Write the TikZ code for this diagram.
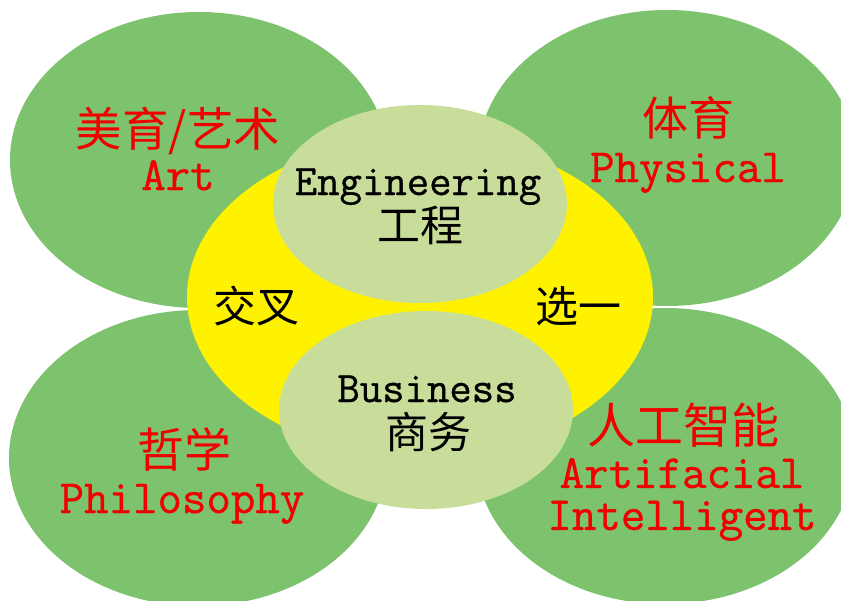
\documentclass[tikz,border=0pt]{standalone}
\usepackage{fontspec}
\newfontfamily\cjk{Noto Sans CJK SC}
\newfontfamily\latmono[FakeBold=0.8]{Latin Modern Mono}
\usetikzlibrary{shapes.geometric}
\definecolor{outergreen}{HTML}{7DC26C}
\definecolor{innergreen}{HTML}{C9DD9A}
\definecolor{coreyellow}{HTML}{FFF200}
\definecolor{labelred}{HTML}{F00000}
\tikzset{
  x=1pt, y=-1pt,
  blob/.style={ellipse, draw=none, inner sep=0pt},
  outerblob/.style={blob, fill=outergreen, minimum width=378pt, minimum height=296pt},
  innerblob/.style={blob, fill=innergreen, minimum width=294pt, minimum height=198pt},
  coreblob/.style={blob, fill=coreyellow, minimum width=466pt, minimum height=320pt},
  redcn/.style={anchor=base, inner sep=0pt, text=labelred, font=\cjk\fontsize{46}{50}\selectfont},
  redlat/.style={anchor=base, inner sep=0pt, text=labelred, font=\latmono\fontsize{47.5}{50}\selectfont},
  blackcn/.style={anchor=base, inner sep=0pt, text=black, font=\cjk\fontsize{43}{48}\selectfont},
  blacklat/.style={anchor=base, inner sep=0pt, text=black, font=\latmono\fontsize{43.5}{48}\selectfont},
}
\begin{document}
\begin{tikzpicture}
\useasboundingbox (0,0) rectangle (841,600);
\fill[white] (0,0) rectangle (841,600);
\begin{scope}
\clip (0,0) rectangle (841,600);
\node[outerblob] (tl) at (199,160) {};
\node[outerblob] (tr) at (667,158) {};
\node[outerblob] (bl) at (198,458) {};
\node[outerblob] (br) at (665,456) {};
\node[coreblob] (core) at (420,297) {};
\node[innerblob] (eng) at (420,204) {};
\node[innerblob] (bus) at (426,410) {};
\end{scope}
% top-left
\node[redcn, font=\cjk\fontsize{46.5}{50}\selectfont] (artcn) at (178,146) {美育/艺术};
\node[redlat] (artlat) at (178,190) {Art};
% top-right
\node[redcn] (phycn) at (688,135) {体育};
\node[redlat] (phylat) at (688,182) {Physical};
% engineering
\node[blacklat] (englat) at (418,195) {Engineering};
\node[blackcn] (engcn) at (420,241) {工程};
% core labels
\node[blackcn] (cross) at (256,322) {交叉};
\node[blackcn] (choose) at (578,322) {选一};
% business
\node[blacklat] (buslat) at (427,402) {Business};
\node[blackcn] (buscn) at (428,448) {商务};
% bottom-left
\node[redcn, font=\cjk\fontsize{47}{50}\selectfont] (philcn) at (184,467) {哲学};
\node[redlat] (phillat) at (182,513) {Philosophy};
% bottom-right
\node[redcn, font=\cjk\fontsize{48}{50}\selectfont] (aicn) at (683,443) {人工智能};
\node[redlat, anchor=north, align=center, font=\latmono\fontsize{47.5}{42}\selectfont] (ailat) at (682,458) {Artifacial\\Intelligent};
\end{tikzpicture}
\end{document}
